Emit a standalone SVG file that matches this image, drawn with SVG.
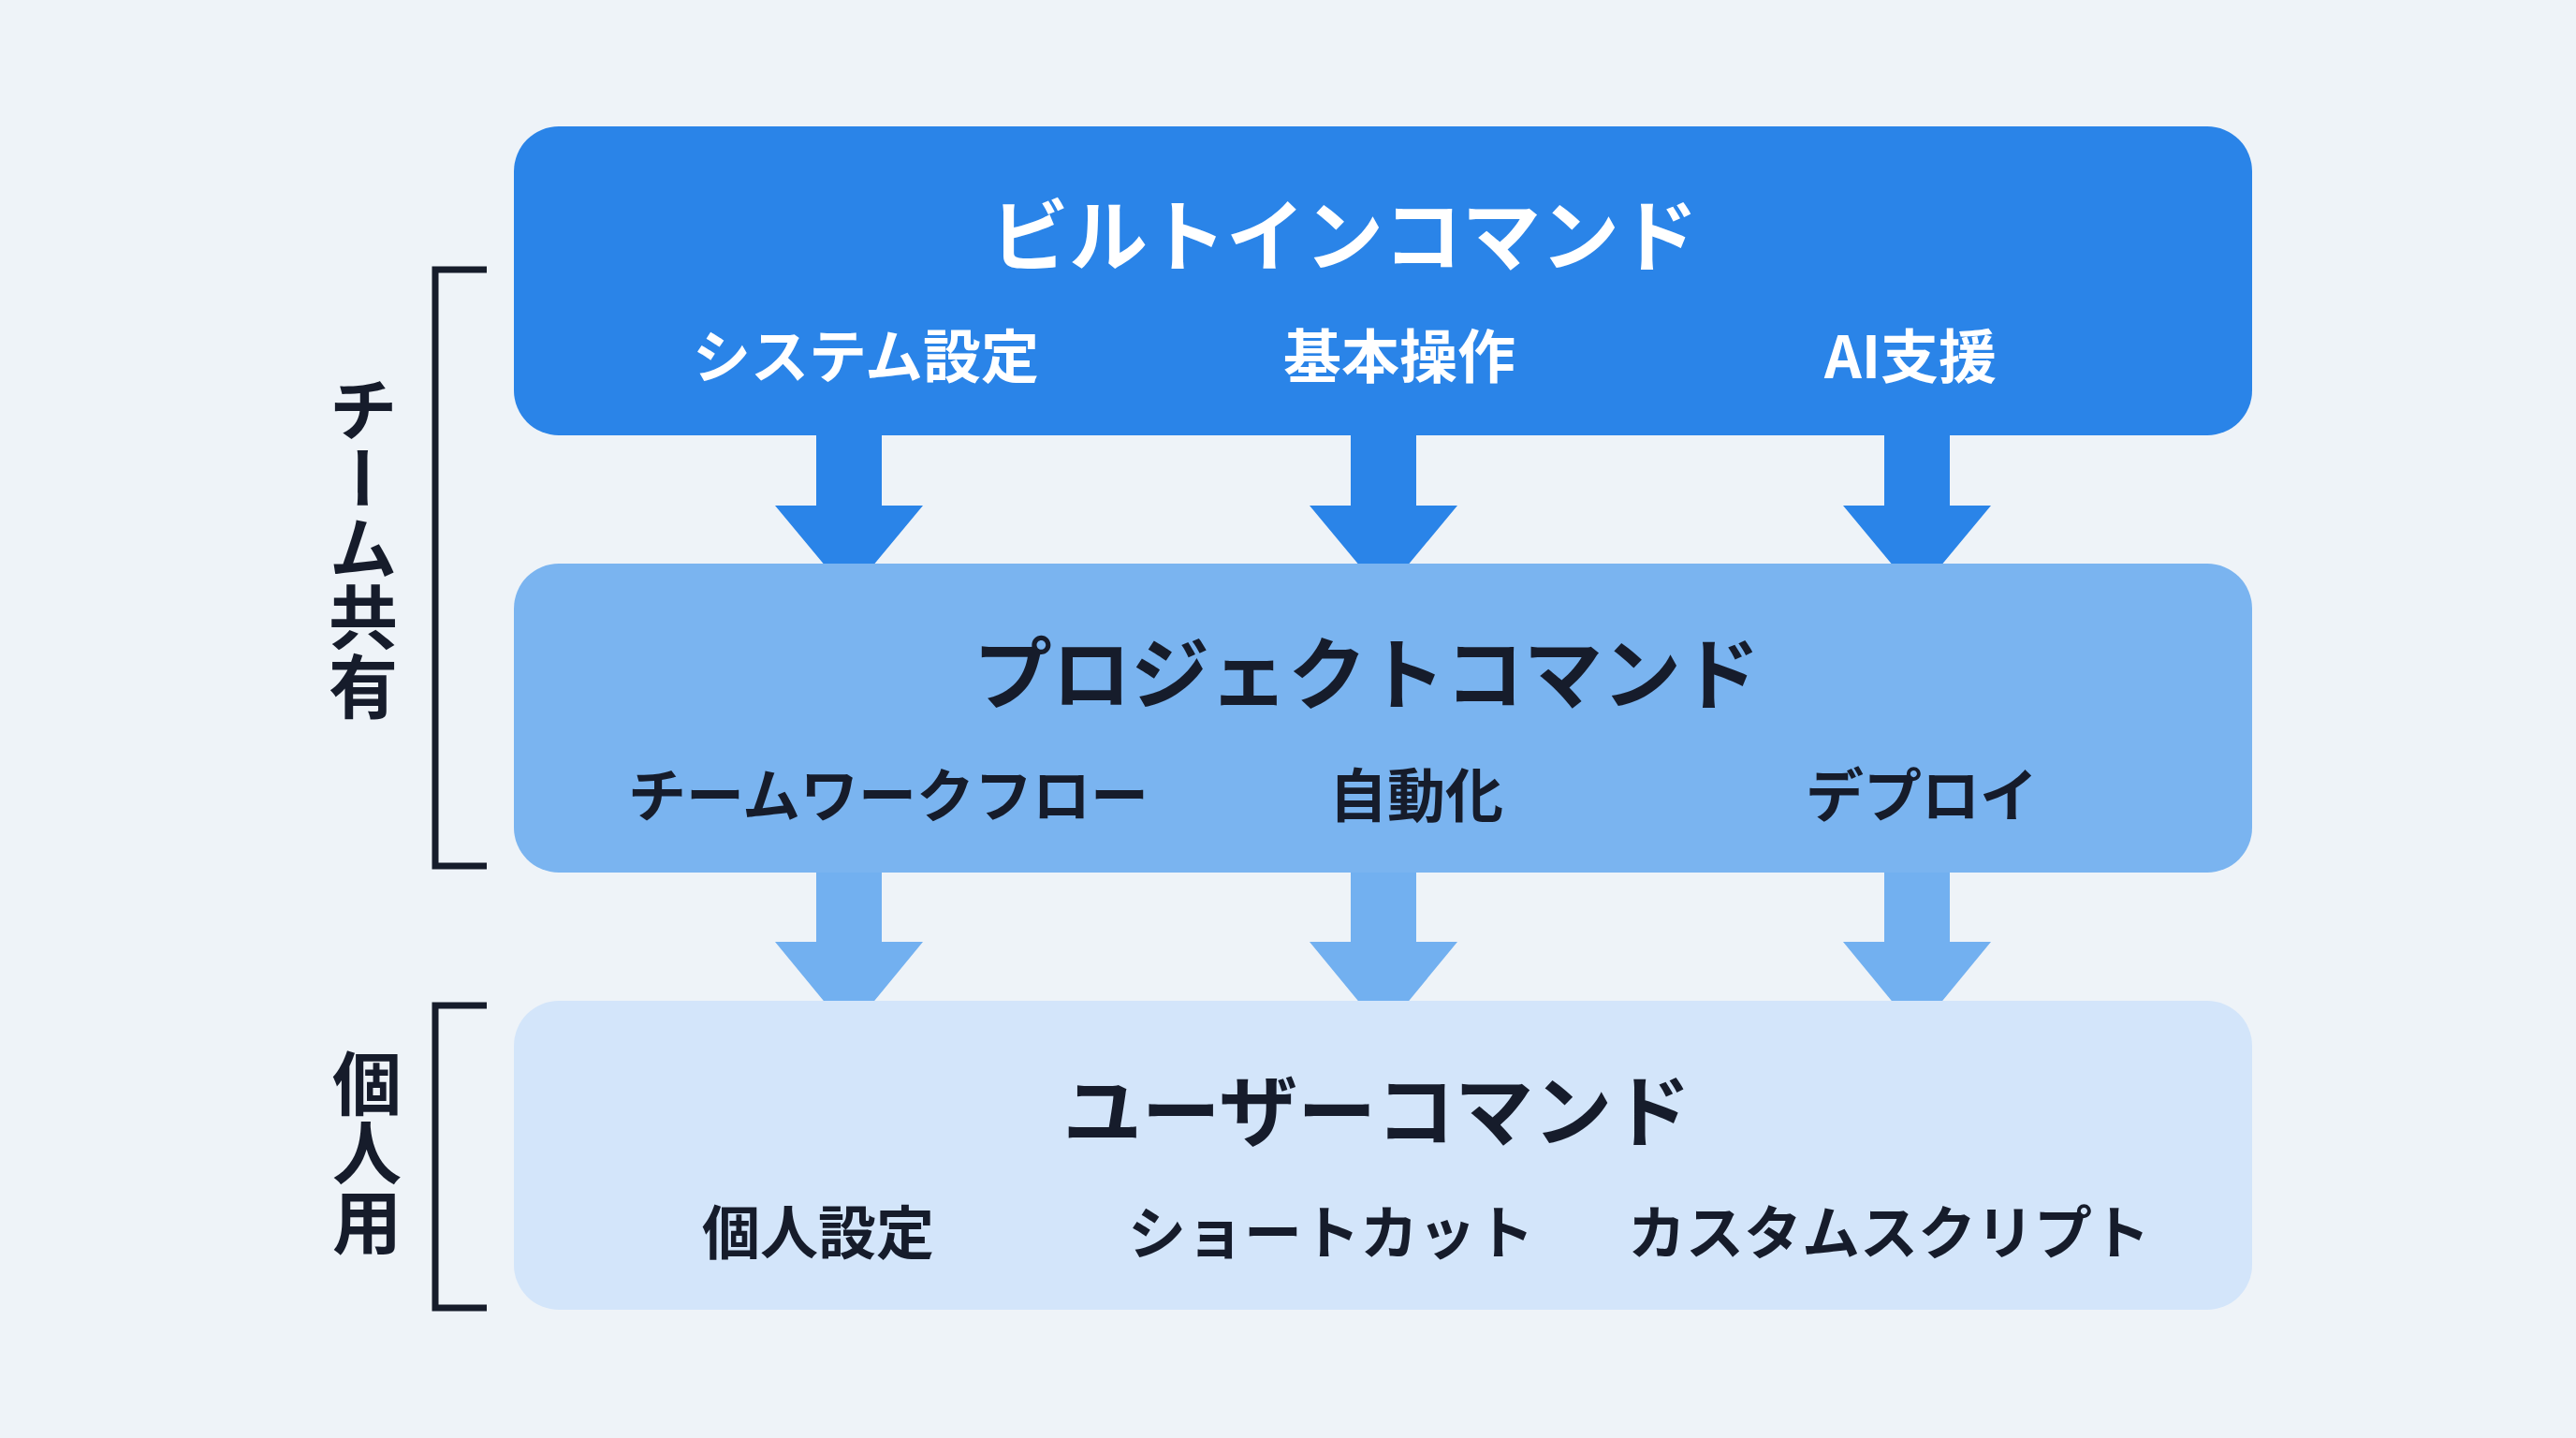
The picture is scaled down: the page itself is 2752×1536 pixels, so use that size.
<svg xmlns="http://www.w3.org/2000/svg" width="2752" height="1536" viewBox="0 0 2752 1536">
<style>
text{font-family:"Noto Sans CJK JP","Noto Sans",sans-serif;font-weight:700;text-anchor:middle;dominant-baseline:central}
.t{font-size:84px}.s{font-size:62px}
.w{fill:#ffffff}.d{fill:#161c2b}
.v{font-size:74px;writing-mode:vertical-rl;text-orientation:upright;fill:#161c2b;text-anchor:start;dominant-baseline:auto}
.br{fill:none;stroke:#161c2b;stroke-width:7}
</style>
<rect width="2752" height="1536" fill="#eef3f8"/>
<g id="connectors">
<g fill="#2a84e8">
<polygon points="872,465 942,465 942,540 986,540 907,635 828,540 872,540"/>
<polygon points="1443,465 1513,465 1513,540 1557,540 1478,635 1399,540 1443,540"/>
<polygon points="2013,465 2083,465 2083,540 2127,540 2048,635 1969,540 2013,540"/>
</g>
<g fill="#72b0f0">
<polygon points="872,932 942,932 942,1006 986,1006 907,1102 828,1006 872,1006"/>
<polygon points="1443,932 1513,932 1513,1006 1557,1006 1478,1102 1399,1006 1443,1006"/>
<polygon points="2013,932 2083,932 2083,1006 2127,1006 2048,1102 1969,1006 2013,1006"/>
</g>
</g>
<g id="builtin">
<rect x="549" y="135" width="1857" height="330" rx="48" fill="#2a84e8"/>
<text class="t w" x="1436" y="246">ビルトインコマンド</text>
<text class="s w" x="925" y="377">システム設定</text>
<text class="s w" x="1495" y="377">基本操作</text>
<text class="s w" x="2041" y="377">AI支援</text>
</g>
<g id="project">
<rect x="549" y="602" width="1857" height="330" rx="48" fill="#7ab4f0"/>
<text class="t d" x="1460" y="714">プロジェクトコマンド</text>
<text class="s d" x="949" y="846">チームワークフロー</text>
<text class="s d" x="1513" y="846">自動化</text>
<text class="s d" x="2053" y="846">デプロイ</text>
</g>
<g id="user">
<rect x="549" y="1069" width="1857" height="330" rx="48" fill="#d3e5fa"/>
<text class="t d" x="1471" y="1181">ユーザーコマンド</text>
<text class="s d" x="874" y="1313">個人設定</text>
<text class="s d" x="1422" y="1313">ショートカット</text>
<text class="s d" x="2018" y="1313">カスタムスクリプト</text>
</g>
<g id="team-shared">
<path class="br" d="M520,288 H465 V925 H520"/>
<text class="v" x="388" y="400">チーム共有</text>
</g>
<g id="personal">
<path class="br" d="M520,1074 H465 V1397 H520"/>
<text class="v" x="392" y="1120">個人用</text>
</g>
</svg>
